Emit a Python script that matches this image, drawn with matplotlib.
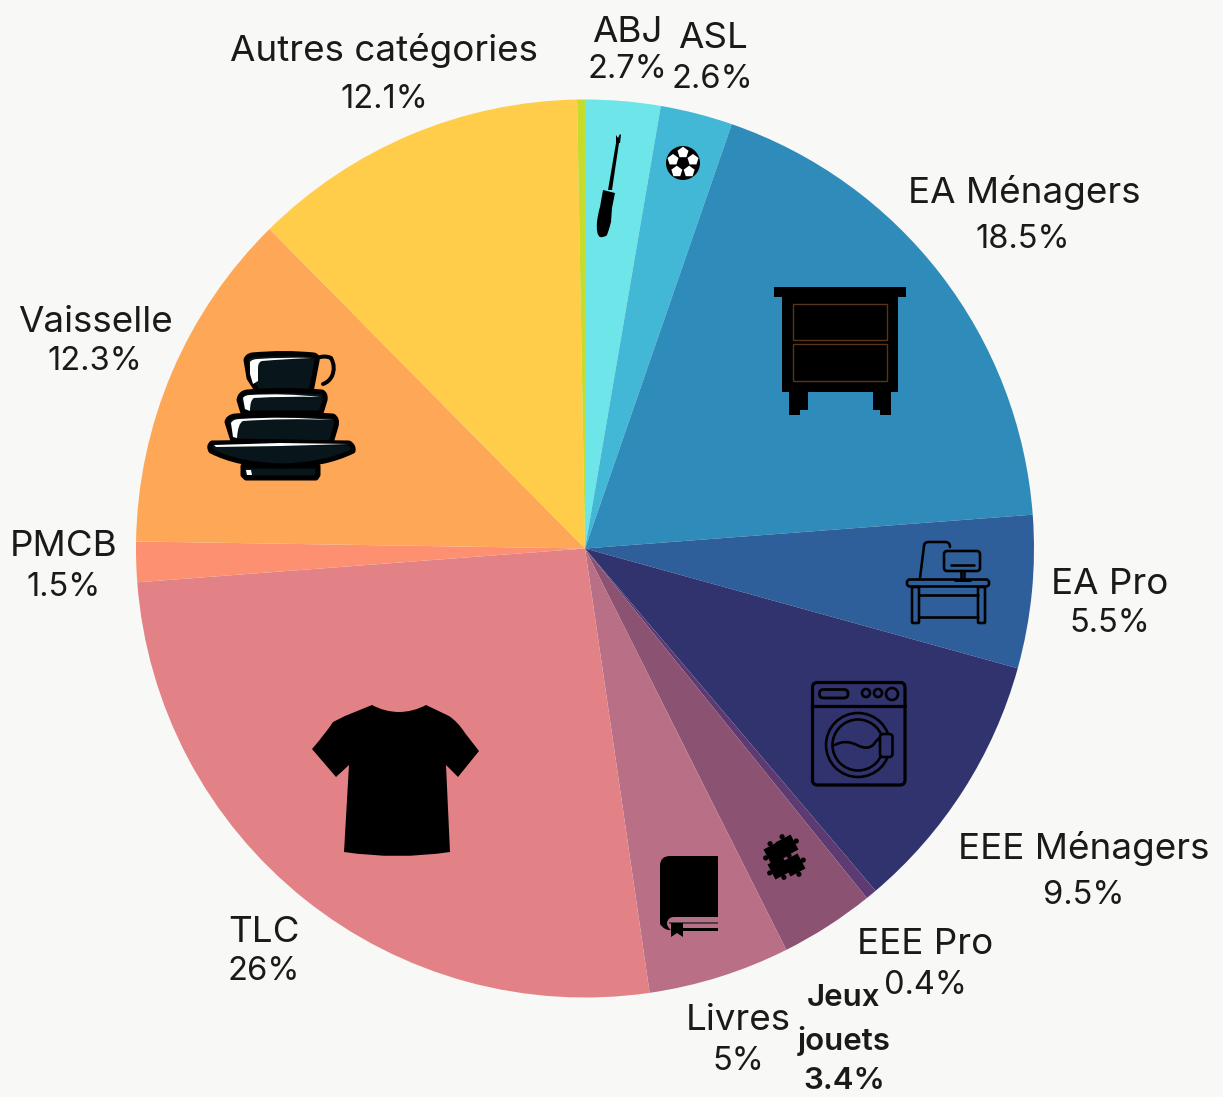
import matplotlib
matplotlib.use('Agg')
import matplotlib.pyplot as plt
import numpy as np
from matplotlib.path import Path
from matplotlib.patches import PathPatch, Circle, Rectangle, FancyBboxPatch, RegularPolygon

# Slices, clockwise from 12 o'clock
categories = ['ABJ', 'ASL', 'EA Ménagers', 'EA Pro', 'EEE Ménagers', 'EEE Pro',
              'Jeux jouets', 'Livres', 'TLC', 'PMCB', 'Vaisselle', 'Autres catégories', 'Autres']
shares = [2.7, 2.6, 18.5, 5.5, 9.5, 0.4, 3.4, 5.1, 26.1, 1.45, 12.35, 12.12, 0.28]
share_labels = ['2.7%', '2.6%', '18.5%', '5.5%', '9.5%', '0.4%', '3.4%', '5%', '26%', '1.5%', '12.3%', '12.1%', '']
colors = ['#6de5e9', '#43b7d6', '#2e8bba', '#2e5f9b', '#30336d', '#5d3b72', '#8b5272',
          '#b96f85', '#e28286', '#fc9070', '#fea857', '#ffcd4a', '#c5dc2c']

BG = '#f8f8f6'
INK = '#1a1a1a'
FONT = 'Inter'
PX = 0.72  # one pixel in points at dpi 100

fig = plt.figure(figsize=(12.23, 10.97), dpi=100, facecolor=BG)

# pie in its own axes, y up
ax_pie = fig.add_axes([0, 0, 1, 1])
ax_pie.pie(shares, colors=colors, startangle=90, counterclock=False,
           center=(585, 1097 - 548.5), radius=449, frame=True,
           wedgeprops={'linewidth': 0})
ax_pie.set_xlim(0, 1223)
ax_pie.set_ylim(0, 1097)
ax_pie.axis('off')

# overlay in image pixels, y down, for labels and icons
ax = fig.add_axes([0, 0, 1, 1])
ax.set_xlim(0, 1223)
ax.set_ylim(1097, 0)
ax.axis('off')
ax.patch.set_alpha(0)


def shape(points, fc='black', ec='none', lw=0, closed=True, z=3):
    # tuples of 2 are line points, 4 quad curves, 6 cubic curves
    verts, codes = [points[0]], [Path.MOVETO]
    for p in points[1:]:
        if len(p) == 2:
            verts.append(p)
            codes.append(Path.LINETO)
        elif len(p) == 4:
            verts += [p[:2], p[2:]]
            codes += [Path.CURVE3] * 2
        else:
            verts += [p[:2], p[2:4], p[4:]]
            codes += [Path.CURVE4] * 3
    if closed:
        verts.append(points[0])
        codes.append(Path.CLOSEPOLY)
    ax.add_patch(PathPatch(Path(verts, codes), fc=fc if closed else 'none', ec=ec,
                           lw=lw * PX, zorder=z, capstyle='round', joinstyle='round'))


def box(x0, y0, x1, y1, r=0, fc='none', ec='black', lw=2.6, z=3):
    if r:
        ax.add_patch(FancyBboxPatch((x0 + r, y0 + r), x1 - x0 - 2 * r, y1 - y0 - 2 * r,
                                    boxstyle=f'round,pad={r}', fc=fc, ec=ec, lw=lw * PX, zorder=z))
    else:
        ax.add_patch(Rectangle((x0, y0), x1 - x0, y1 - y0, fc=fc, ec=ec, lw=lw * PX, zorder=z))


def dishes():
    dark = '#08151b'
    line = dict(fc=dark, ec='black', lw=5)
    shape([(246, 360), (247, 356, 252, 355), (285, 352, 314, 355), (318, 356, 317, 361),
           (311, 392), (258, 392), (249, 378)], **line)
    shape([(317, 358), (325, 355, 331, 358), (336, 367, 332, 376), (329, 382, 323, 384)],
          ec='black', lw=4, closed=False)
    shape([(239, 400), (240, 393, 247, 392), (280, 389, 322, 392), (326, 394, 325, 400),
           (321, 413), (243, 413)], **line)
    shape([(227, 422), (228, 417, 235, 416), (285, 413, 333, 416), (338, 419, 336, 426),
           (331, 443), (233, 441)], **line)
    shape([(243, 466), (318, 466), (318, 475), (316, 478), (246, 478), (243, 475)], **line)
    shape([(212, 443), (280, 442), (349, 443), (354, 446, 353, 451), (325, 465, 282, 466),
           (238, 465, 211, 451), (208, 446, 212, 443)], **line)
    # white highlights, thin and curved
    shape([(250, 362), (252, 359, 258, 359), (285, 357, 311, 358), (285, 359, 262, 361),
           (258, 362, 258, 368), (258, 381), (253, 384), (250, 374)], fc='white')
    shape([(243, 398), (245, 395, 250, 395), (285, 393, 320, 397), (285, 396, 254, 398),
           (250, 400, 250, 411), (245, 409)], fc='white')
    shape([(231, 423), (233, 419, 240, 419), (285, 416, 333, 420), (285, 418, 243, 421),
           (238, 423, 237, 438), (233, 437)], fc='white')
    shape([(214, 445), (280, 443), (350, 444), (280, 446), (216, 447)], fc='white')
    shape([(246, 470), (251, 470), (252, 475), (247, 475)], fc='white')


def screwdriver():
    shape([(603, 190), (615, 193), (612, 208), (611, 222), (609, 230, 607, 235), (604, 238, 600, 237),
           (596, 235, 597, 222), (598, 213, 600, 207)])
    shape([(608, 190), (612, 190), (619, 143), (616, 143)])
    shape([(616, 143), (616, 135), (618, 138), (620, 134), (621, 135), (620, 143)])


def ball():
    cx, cy = 683, 163
    ax.add_patch(Circle((cx, cy), 17, fc='black', zorder=3))
    for a in np.deg2rad([-90, -18, 54, 126, 198]):
        ax.add_patch(RegularPolygon((cx + 10.5 * np.cos(a), cy + 10.5 * np.sin(a)), 5, radius=5.8,
                                    orientation=np.pi / 2 - a, fc='white', zorder=4))


def nightstand():
    box(774, 287, 906, 297, fc='black', ec='none', lw=0)
    box(782, 297, 898, 392, fc='black', ec='none', lw=0)
    box(789, 392, 808, 410, fc='black', ec='none', lw=0)
    box(789, 410, 800, 415, fc='black', ec='none', lw=0)
    box(873, 392, 891, 410, fc='black', ec='none', lw=0)
    box(880, 410, 891, 415, fc='black', ec='none', lw=0)
    box(793, 304, 887, 340, ec='#5a3414', lw=1.4, z=4)
    box(793, 344, 887, 381, ec='#5a3414', lw=1.4, z=4)


def desk():
    box(907, 579.5, 989, 586.5, r=3)
    box(912, 587, 919, 623, r=1)
    box(978, 587, 985, 623, r=1)
    shape([(919, 595), (978, 595)], ec='black', lw=2.6, closed=False)
    shape([(919, 617), (978, 617)], ec='black', lw=2.6, closed=False)
    shape([(920, 578), (924, 546), (924, 542, 929, 542), (945, 542), (950, 542, 950, 547)],
          ec='black', lw=2.6, closed=False)
    box(944, 551, 980, 571, r=3, fc='#2e5f9b', z=4)
    shape([(951, 565), (974, 565)], ec='black', lw=2.6, closed=False, z=5)
    shape([(961, 571), (961, 580)], ec='black', lw=2.6, closed=False)
    shape([(964, 571), (964, 580)], ec='black', lw=2.6, closed=False)
    shape([(955, 580), (970, 580)], ec='black', lw=3, closed=False)


def washer():
    box(812.5, 682.5, 905, 785, r=5, lw=3.2)
    shape([(813, 706), (905, 706)], ec='black', lw=3.2, closed=False)
    box(819.5, 689.5, 848, 698, r=4, lw=2.8)
    for x, y, r in [(866, 693, 4), (878, 693, 4), (892, 694, 6)]:
        ax.add_patch(Circle((x, y), r, fc='none', ec='black', lw=2.6 * PX, zorder=3))
    for r in [32, 25.5]:
        ax.add_patch(Circle((858, 745), r, fc='none', ec='black', lw=2.6 * PX, zorder=3))
    shape([(835, 745), (845, 739, 857, 745), (868, 751, 874, 744), (877, 739, 881, 737)],
          ec='black', lw=2.6, closed=False)
    box(880, 734, 892.5, 757, r=3, fc='#30336d', lw=2.6, z=4)


def puzzle():
    # four pieces tilted about 28 degrees, each with a couple of tabs
    t = np.deg2rad(-28)
    s = 8.5
    pieces = [((787, 846), [(0, -1), (1, 0)]), ((775, 853), [(-1, 0), (0, -1)]),
              ((779, 868), [(-1, 0), (0, 1)]), ((794, 865), [(1, 0), (0, 1), (0, -1)])]
    for (cx, cy), tabs in pieces:
        corners = [(-s, -s), (s, -s), (s, s), (-s, s)]
        shape([(cx + a * np.cos(t) - b * np.sin(t), cy + a * np.sin(t) + b * np.cos(t)) for a, b in corners])
        for i, j in tabs:
            a, b = i * (s + 2), j * (s + 2)
            ax.add_patch(Circle((cx + a * np.cos(t) - b * np.sin(t), cy + a * np.sin(t) + b * np.cos(t)),
                                2.6, fc='black', zorder=3))


def book():
    shape([(670, 856), (718, 856), (718, 917), (674, 917), (668, 917, 667, 923), (667, 927, 671, 930),
           (665, 931, 660, 924), (660, 866), (660, 856, 670, 856)])
    box(669, 922, 718, 924, fc='#444444', ec='none', lw=0)
    box(683, 928, 718, 931, fc='black', ec='none', lw=0)
    shape([(671, 923), (683, 923), (683, 937), (677, 933), (671, 937)])


def tshirt():
    shape([(372, 705), (385, 712, 399, 712), (413, 712, 426, 705), (449, 716), (458, 722, 465, 733),
           (479, 751), (458, 777), (446, 765), (450, 852), (397, 860, 344, 852), (349, 765),
           (336, 777), (312, 749), (326, 733, 333, 722), (345, 716)])


dishes()
screwdriver()
ball()
nightstand()
desk()
washer()
puzzle()
book()
tshirt()

# labels: name position, then value position
label_pos = {
    'ABJ': ((627, 32), (627, 70)),
    'ASL': ((713, 39), (712, 79)),
    'EA Ménagers': ((1024, 192), (1023, 239)),
    'EA Pro': ((1110, 584), (1110, 623)),
    'EEE Ménagers': ((1084, 849), (1084, 896)),
    'EEE Pro': ((925, 945), (925, 985)),
    'Livres': ((738, 1021), (738, 1061)),
    'TLC': ((264, 932), (264, 972)),
    'PMCB': ((64, 547), (64, 587)),
    'Vaisselle': ((95, 322), (95, 362)),
    'Autres catégories': ((384, 51), (384, 99)),
}
for name, value in zip(categories, share_labels):
    if name not in label_pos:
        continue
    (x1, y1), (x2, y2) = label_pos[name]
    ax.text(x1, y1, name, fontsize=26.5, family=FONT, color=INK, ha='center', va='center')
    ax.text(x2, y2, value, fontsize=23.5, family=FONT, color=INK, ha='center', va='center')

jeux = share_labels[categories.index('Jeux jouets')]
for y, txt in [(998, 'Jeux'), (1041, 'jouets'), (1081, jeux)]:
    ax.text(844, y, txt, fontsize=22.5, family=FONT, weight='semibold', color=INK, ha='center', va='center')

fig.savefig('out.png', dpi=100, facecolor=BG)
